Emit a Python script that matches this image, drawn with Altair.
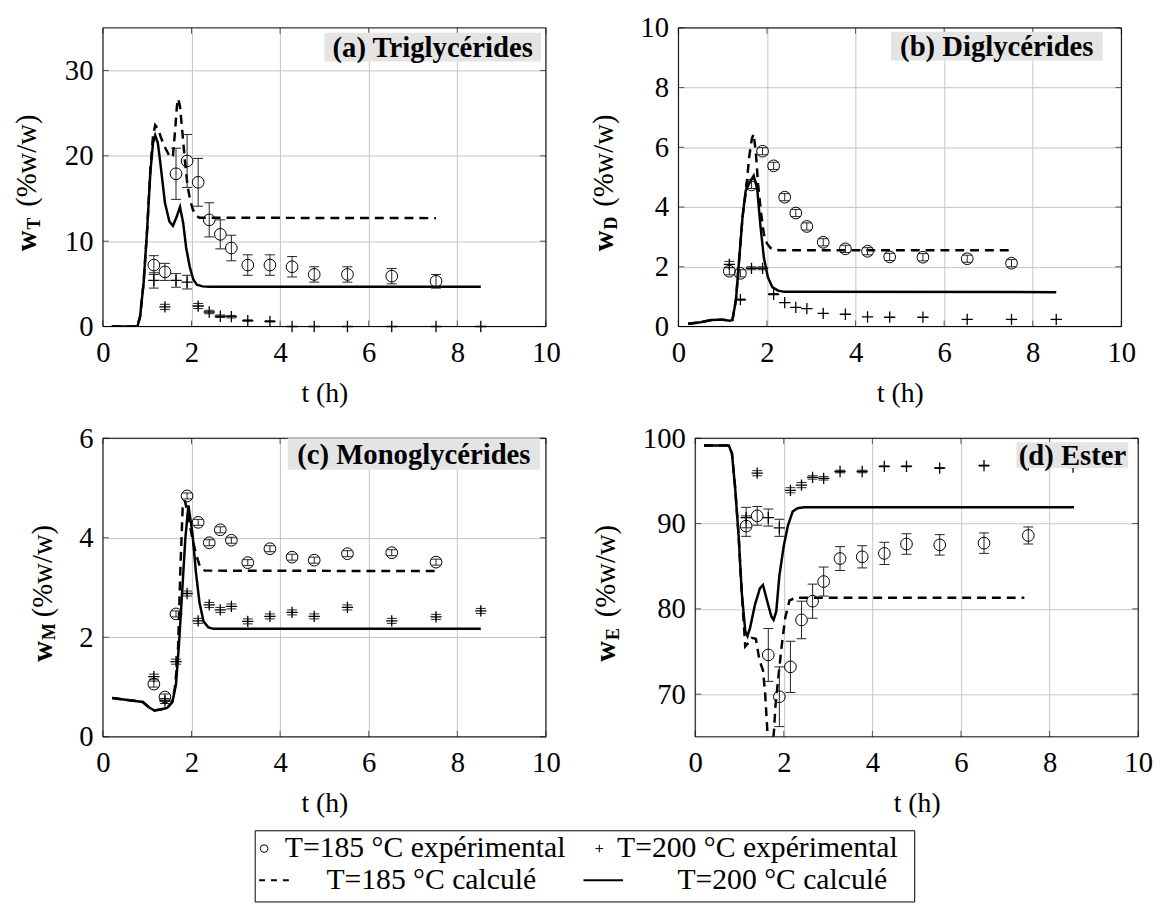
import altair as alt
import pandas as pd

FONT = "Liberation Serif"
W, H = 448, 302

# ---------------- data ----------------
t_185 = [1.15, 1.4, 1.65, 1.9, 2.15, 2.4, 2.65, 2.9, 3.27, 3.77, 4.27, 4.77, 5.52, 6.52, 7.52]
t_200 = [1.15, 1.4, 1.65, 1.9, 2.15, 2.4, 2.65, 2.9, 3.27, 3.77, 4.27, 4.77, 5.52, 6.52, 7.52, 8.53]
x_ticks = [0, 2, 4, 6, 8, 10]

# (a) Triglycerides
wT_185 = [7.2, 6.4, 17.9, 19.4, 16.9, 12.5, 10.8, 9.2, 7.2, 7.2, 7.0, 6.1, 6.1, 5.9, 5.3]
eT_185 = [1.1, 1.0, 3.0, 3.1, 2.8, 2.0, 1.7, 1.5, 1.2, 1.2, 1.2, 0.9, 0.9, 0.9, 0.8]
wT_200 = [5.4, 2.3, 5.4, 5.2, 2.4, 1.7, 1.2, 1.15, 0.7, 0.6, 0, 0, 0, 0, 0, 0]
eT_200 = [0.9, 0.3, 0.8, 0.8, 0.3, 0.2, 0.15, 0.15, 0.08, 0.08, 0, 0, 0, 0, 0, 0]
tT_c200 = [0.2, 0.78, 0.84, 0.92, 1.0, 1.07, 1.13, 1.18, 1.24, 1.3, 1.4, 1.5, 1.58, 1.66, 1.74,
           1.81, 1.88, 1.96, 2.04, 2.12, 2.25, 2.4, 8.53]
wT_c200 = [0, 0, 1.2, 5.2, 11.5, 18.0, 21.5, 22.4, 21.5, 19.0, 14.5, 12.3, 11.8, 12.8, 14.0,
           12.2, 9.2, 7.0, 5.5, 4.9, 4.7, 4.65, 4.65]
tT_c185 = [0.2, 0.78, 0.84, 0.92, 1.0, 1.07, 1.13, 1.18, 1.24, 1.32, 1.42, 1.52, 1.58, 1.63, 1.67,
           1.7, 1.74, 1.79, 1.85, 1.91, 1.97, 2.03, 2.1, 2.18, 7.52]
wT_c185 = [0, 0, 1.2, 5.2, 11.5, 18.3, 22.3, 23.6, 23.2, 22.0, 20.8, 19.8, 20.0, 23.0, 25.8,
           26.7, 25.8, 23.0, 19.5, 16.5, 14.8, 13.7, 13.0, 12.75, 12.7]

# (b) Diglycerides
wD_185 = [1.85, 1.78, 4.74, 5.87, 5.38, 4.33, 3.8, 3.35, 2.82, 2.6, 2.52, 2.33, 2.32, 2.27, 2.12]
eD_185 = [0.12] * 15
wD_200 = [2.08, 0.9, 1.95, 1.95, 1.08, 0.8, 0.64, 0.6, 0.44, 0.41, 0.32, 0.31, 0.31, 0.24, 0.24, 0.24]
eD_200 = [0.1, 0.02, 0.05, 0.05, 0.02, 0, 0, 0, 0, 0, 0, 0, 0, 0, 0, 0]
tD_c200 = [0.22, 0.5, 0.75, 1.0, 1.15, 1.22, 1.3, 1.38, 1.45, 1.52, 1.6, 1.7, 1.78, 1.85, 1.93,
           2.02, 2.12, 2.25, 2.4, 8.53]
wD_c200 = [0.09, 0.14, 0.22, 0.23, 0.19, 0.22, 0.9, 2.4, 3.7, 4.55, 4.8, 5.05, 4.6, 3.4, 2.3,
           1.65, 1.32, 1.2, 1.16, 1.15]
tD_c185 = [0.22, 0.5, 0.75, 1.0, 1.15, 1.22, 1.3, 1.38, 1.45, 1.53, 1.6, 1.66, 1.7, 1.75, 1.8,
           1.87, 1.93, 2.0, 2.08, 2.16, 2.3, 7.48]
wD_c185 = [0.09, 0.14, 0.22, 0.23, 0.19, 0.22, 0.9, 2.4, 3.7, 4.6, 5.7, 6.3, 6.45, 5.8, 4.75,
           3.75, 3.1, 2.78, 2.63, 2.57, 2.55, 2.55]

# (c) Monoglycerides
wM_185 = [1.06, 0.8, 2.47, 4.84, 4.31, 3.9, 4.16, 3.95, 3.5, 3.78, 3.61, 3.55, 3.68, 3.7, 3.51]
eM_185 = [0.06] * 15
wM_200 = [1.21, 0.72, 1.51, 2.88, 2.33, 2.65, 2.55, 2.62, 2.32, 2.42, 2.5, 2.42, 2.6, 2.33, 2.41, 2.53]
eM_200 = [0.05] * 16
tM_c200 = [0.21, 0.9, 1.03, 1.16, 1.3, 1.45, 1.57, 1.65, 1.72, 1.78, 1.86, 1.93, 2.02, 2.1, 2.18,
           2.27, 2.38, 2.5, 8.53]
wM_c200 = [0.78, 0.70, 0.6, 0.53, 0.55, 0.58, 0.70, 1.06, 1.9, 2.78, 3.98, 4.65, 4.1, 3.3, 2.7,
           2.32, 2.2, 2.17, 2.17]
tM_c185 = [0.21, 0.9, 1.03, 1.16, 1.3, 1.45, 1.55, 1.62, 1.69, 1.75, 1.8, 1.85, 1.92, 2.02, 2.11,
           2.19, 2.3, 7.52]
wM_c185 = [0.78, 0.70, 0.6, 0.53, 0.55, 0.58, 0.68, 0.95, 1.6, 3.4, 4.6, 4.75, 4.45, 3.98, 3.65,
           3.42, 3.34, 3.33]

# (d) Ester
wE_185 = [89.7, 90.9, 74.6, 69.7, 73.2, 78.7, 80.9, 83.2, 85.9, 86.1, 86.5, 87.6, 87.5, 87.7, 88.6]
eE_185 = [1.2, 1.1, 3.1, 3.5, 3.0, 2.2, 2.0, 1.7, 1.4, 1.3, 1.3, 1.2, 1.2, 1.2, 1.0]
wE_200 = [90.7, 95.9, 90.7, 89.5, 93.9, 94.5, 95.4, 95.3, 96.1, 96.1, 96.7, 96.7, 96.5, 96.8, 96.9, 96.6]
eE_200 = [1.2, 0.3, 1.0, 1.0, 0.3, 0.3, 0.2, 0.2, 0.15, 0.15, 0.05, 0.05, 0.05, 0.05, 0.05, 0.05]
tE_c200 = [0.2, 0.76, 0.83, 0.9, 0.98, 1.05, 1.13, 1.18, 1.24, 1.35, 1.46, 1.53, 1.61, 1.72, 1.77,
           1.83, 1.9, 2.0, 2.09, 2.2, 2.31, 2.46, 8.55]
wE_c200 = [99.15, 99.15, 98.2, 94.3, 88.6, 82.0, 77.4, 76.8, 77.8, 80.5, 82.4, 82.8, 81.2, 79.1, 78.7,
           79.7, 83.9, 87.4, 89.7, 91.4, 91.8, 91.9, 91.9]
tE_c185 = [0.2, 0.76, 0.83, 0.9, 0.98, 1.05, 1.13, 1.2, 1.27, 1.37, 1.45, 1.53, 1.58, 1.62, 1.66,
           1.7, 1.74, 1.78, 1.81, 1.87, 1.94, 2.03, 2.13, 2.27, 7.43]
wE_c185 = [99.15, 99.15, 98.2, 94.3, 88.6, 82.0, 75.6, 76.0, 76.6, 76.5, 74.0, 72.8, 70.0, 66.5, 63.0,
           61.5, 63.5, 65.8, 68.5, 71.6, 75.1, 78.9, 81.0, 81.3, 81.3]

legend_labels = ["T=185 °C expérimental", "T=200 °C expérimental", "T=185 °C calculé", "T=200 °C calculé"]

one = pd.DataFrame({"d": [0]})
GRID = "#c4c4c4"
FS = 29


def panel(label, sub, ydom, yvals, w185, e185, w200, e200, tc200, wc200, tc185, wc185,
          title_x, box, right_anchor):
    xs = alt.Scale(domain=[0, 10], nice=False, zero=False)
    ys = alt.Scale(domain=ydom, nice=False, zero=False)
    xax = alt.Axis(values=x_ticks, title="t (h)", grid=True, gridColor=GRID, gridWidth=1,
                   ticks=False, domain=False, labelFont=FONT, labelFontSize=FS, labelColor="black",
                   labelPadding=12, labelFlush=False, labelOverlap=False, titleFont=FONT,
                   titleFontSize=28, titleFontWeight="normal", titleColor="black", titlePadding=13)
    yax = alt.Axis(values=yvals, title=None, grid=True, gridColor=GRID, gridWidth=1, ticks=False,
                   domain=False, labelFont=FONT, labelFontSize=FS, labelColor="black",
                   labelPadding=10, labelFlush=False, labelOverlap=False)
    X = alt.X("t:Q", scale=xs, axis=xax)

    def Y(f):
        return alt.Y(f + ":Q", scale=ys, axis=yax)

    p185 = pd.DataFrame({"t": t_185, "v": w185, "lo": [v - e for v, e in zip(w185, e185)],
                         "hi": [v + e for v, e in zip(w185, e185)], "e": e185})
    p200 = pd.DataFrame({"t": t_200, "v": w200, "lo": [v - e for v, e in zip(w200, e200)],
                         "hi": [v + e for v, e in zip(w200, e200)], "e": e200})
    bars = pd.concat([p185, p200])
    bars = bars[bars["e"] > 0]
    c200 = pd.DataFrame({"t": tc200, "v": wc200})
    c185 = pd.DataFrame({"t": tc185, "v": wc185})

    layers = []
    layers.append(alt.Chart(one).mark_rule(opacity=0, strokeWidth=1).encode(
        x=alt.value(-box[4]), x2=alt.value(right_anchor), y=alt.value(-14), y2=alt.value(H + 85)))
    xt = pd.DataFrame({"t": x_ticks})
    yt = pd.DataFrame({"v": yvals})
    layers.append(alt.Chart(xt).mark_rule(color="#555555", strokeWidth=1).encode(
        x=X, y=alt.value(H), y2=alt.value(H - 6)))
    layers.append(alt.Chart(xt).mark_rule(color="#555555", strokeWidth=1).encode(
        x=X, y=alt.value(0), y2=alt.value(6)))
    layers.append(alt.Chart(yt).mark_rule(color="#555555", strokeWidth=1).encode(
        y=Y("v"), x=alt.value(0), x2=alt.value(6)))
    layers.append(alt.Chart(yt).mark_rule(color="#555555", strokeWidth=1).encode(
        y=Y("v"), x=alt.value(W - 6), x2=alt.value(W)))
    layers.append(alt.Chart(c185).mark_line(color="black", strokeWidth=2.5, strokeDash=[9, 6],
                                            clip=True).encode(x=X, y=Y("v")))
    layers.append(alt.Chart(c200).mark_line(color="black", strokeWidth=2.5, clip=True).encode(
        x=X, y=Y("v")))
    layers.append(alt.Chart(bars).mark_rule(color="#222222", strokeWidth=1).encode(
        x=X, y=Y("lo"), y2="hi:Q"))
    layers.append(alt.Chart(bars).mark_rule(color="#222222", strokeWidth=1, xOffset=-5, x2Offset=5).encode(
        x=X, x2="t:Q", y=Y("lo")))
    layers.append(alt.Chart(bars).mark_rule(color="#222222", strokeWidth=1, xOffset=-5, x2Offset=5).encode(
        x=X, x2="t:Q", y=Y("hi")))
    layers.append(alt.Chart(p185).mark_point(shape="circle", filled=False, size=140, color="black",
                                             strokeWidth=1, opacity=1).encode(x=X, y=Y("v")))
    layers.append(alt.Chart(p200).mark_point(shape="M-1,0H1M0,-1V1", filled=False, size=130,
                                             color="black", strokeWidth=1.3, opacity=1).encode(
        x=X, y=Y("v")))
    # frame
    layers.append(alt.Chart(one).mark_rect(fillOpacity=0, stroke="black", strokeWidth=1).encode(
        x=alt.value(0), x2=alt.value(W), y=alt.value(0), y2=alt.value(H)))
    # panel label
    bx0, bx1, by0, by1 = box[0], box[1], box[2], box[3]
    layers.append(alt.Chart(one).mark_rect(color="#e4e4e4").encode(
        x=alt.value(bx0), x2=alt.value(bx1), y=alt.value(by0), y2=alt.value(by1)))
    layers.append(alt.Chart(one).mark_text(text=label, font=FONT, fontWeight="bold", fontSize=29,
                                           align="center", baseline="middle", color="black").encode(
        x=alt.value((bx0 + bx1) / 2), y=alt.value((by0 + by1) / 2 + 1)))
    # y title: bold w, bold subscript, (%w/w)
    layers.append(alt.Chart(one).mark_text(text="w", font=FONT, fontWeight="bold", fontSize=29,
                                           angle=270, align="left", baseline="alphabetic",
                                           color="black").encode(
        x=alt.value(title_x), y=alt.value(H / 2 + 75)))
    layers.append(alt.Chart(one).mark_text(text=sub, font=FONT, fontWeight="bold", fontSize=18,
                                           angle=270, align="left", baseline="alphabetic",
                                           color="black").encode(
        x=alt.value(title_x + 4), y=alt.value(H / 2 + 53)))
    layers.append(alt.Chart(one).mark_text(text="(%w/w)", font=FONT, fontSize=29,
                                           angle=270, align="left", baseline="alphabetic",
                                           color="black").encode(
        x=alt.value(title_x), y=alt.value(H / 2 + 30)))
    return alt.layer(*layers).properties(width=W, height=H)


pa = panel("(a) Triglycérides", "T", [0, 35], [0, 10, 20, 30], wT_185, eT_185, wT_200, eT_200,
           tT_c200, wT_c200, tT_c185, wT_c185, -68, [224, 443, 5, 34, 95], W + 22)
pb = panel("(b) Diglycérides", "D", [0, 10], [0, 2, 4, 6, 8, 10], wD_185, eD_185, wD_200, eD_200,
           tD_c200, wD_c200, tD_c185, wD_c185, -66, [215, 429, 4, 33, 100], 0)
pc = panel("(c) Monoglycérides", "M", [0, 6], [0, 2, 4, 6], wM_185, eM_185, wM_200, eM_200,
           tM_c200, wM_c200, tM_c185, wM_c185, -52, [187, 442, 0, 32, 95], W + 22)
pd_ = panel("(d) Ester", "E", [65, 100], [70, 80, 90, 100], wE_185, eE_185, wE_200, eE_200,
            tE_c200, wE_c200, tE_c185, wE_c185, -81, [325, 438, 4, 30, 100], 0)

# legend
LW, LH = 842, 72
LFS = 30
lb = alt.Chart(one)
leg = alt.layer(
    lb.mark_rect(fillOpacity=0, stroke="black", strokeWidth=1).encode(
        x=alt.value(154), x2=alt.value(821), y=alt.value(0), y2=alt.value(LH)),
    lb.mark_point(shape="circle", filled=False, size=60, color="black", strokeWidth=1, opacity=1).encode(
        x=alt.value(163), y=alt.value(18)),
    lb.mark_text(text=legend_labels[0], font=FONT, fontSize=LFS, align="left", baseline="middle",
                 color="black").encode(x=alt.value(184), y=alt.value(18)),
    lb.mark_point(shape="M-1,0H1M0,-1V1", filled=False, size=60, color="black", strokeWidth=1,
                  opacity=1).encode(x=alt.value(502), y=alt.value(18)),
    lb.mark_text(text=legend_labels[1], font=FONT, fontSize=LFS, align="left", baseline="middle",
                 color="black").encode(x=alt.value(520), y=alt.value(18)),
    lb.mark_rule(color="black", strokeWidth=2, strokeDash=[6, 6]).encode(
        x=alt.value(158), x2=alt.value(192), y=alt.value(50)),
    lb.mark_text(text=legend_labels[2], font=FONT, fontSize=LFS, align="left", baseline="middle",
                 color="black").encode(x=alt.value(226), y=alt.value(50)),
    lb.mark_rule(color="black", strokeWidth=2).encode(
        x=alt.value(486), x2=alt.value(526), y=alt.value(50)),
    lb.mark_text(text=legend_labels[3], font=FONT, fontSize=LFS, align="left", baseline="middle",
                 color="black").encode(x=alt.value(581), y=alt.value(50)),
).properties(width=LW, height=LH)

row1 = alt.hconcat(pa, pb, spacing=10)
row2 = alt.hconcat(pc, pd_, spacing=23)
inner = alt.vconcat(row1, row2, spacing=12)
chart = alt.vconcat(inner, leg, spacing=8).properties(
    padding={"left": 0, "top": 0, "right": 0, "bottom": 0}
).configure(font=FONT).configure_view(stroke="transparent")

chart.save("out.html", embed_options={"renderer": "svg", "actions": False})
